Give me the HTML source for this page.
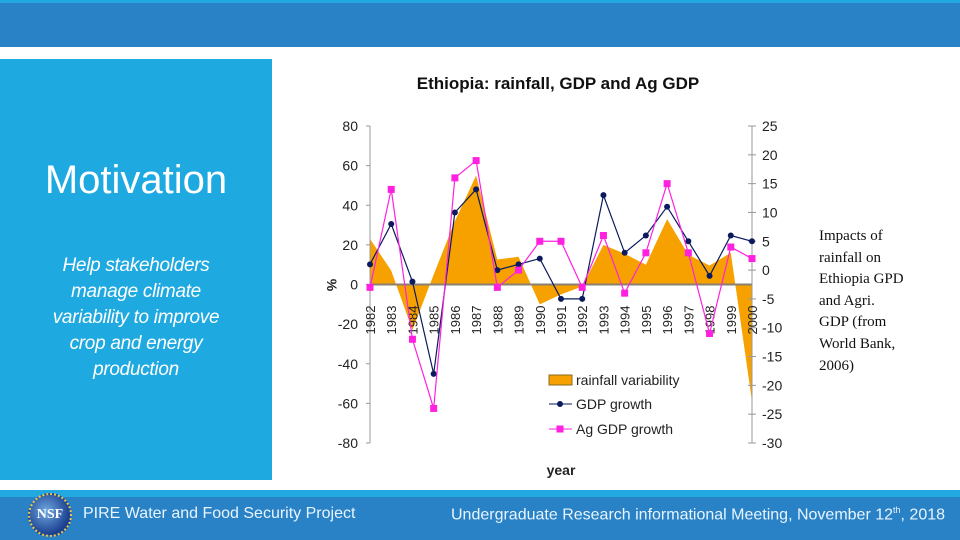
<!DOCTYPE html>
<html><head><meta charset="utf-8"><style>
body{margin:0;width:960px;height:540px;overflow:hidden;background:#fff;font-family:"Liberation Sans",sans-serif;position:relative}
div{position:absolute}
</style></head><body>
<div style="left:0;top:0;width:960px;height:3px;background:#22a9e1"></div>
<div style="left:0;top:3px;width:960px;height:44px;background:#2982c5"></div>
<div style="left:0;top:59px;width:272px;height:421px;background:#1fa9e1"></div>
<div style="left:0;top:158px;width:272px;text-align:center;color:#fff;font-size:40px">Motivation</div>
<div style="left:0;top:253px;width:272px;text-align:center;color:#fff;font-size:19px;font-style:italic;line-height:26px;letter-spacing:-0.3px">Help stakeholders<br>manage climate<br>variability to improve<br>crop and energy<br>production</div>
<div style="left:819px;top:226px;width:110px;font-family:'Liberation Serif',serif;font-size:15px;line-height:21.6px;color:#111">Impacts of<br>rainfall on<br>Ethiopia GPD<br>and Agri.<br>GDP (from<br>World Bank,<br>2006)</div>
<div style="left:0;top:490px;width:960px;height:7px;background:#22a9e1"></div>
<div style="left:0;top:497px;width:960px;height:43px;background:#2982c5"></div>
<div style="left:28px;top:493px;width:44px;height:44px;border-radius:50%;background:radial-gradient(circle at 40% 40%,#6fa8e0,#1a3f8f 70%);border:2px dotted #e8c84a;box-sizing:border-box;color:#fff;font-family:'Liberation Serif',serif;font-size:14px;font-weight:bold;text-align:center;line-height:40px">NSF</div>
<div style="left:83px;top:505px;color:#e8f4ff;font-size:16px">PIRE Water and Food Security Project</div>
<div style="left:451px;top:505px;color:#e8f4ff;font-size:16px">Undergraduate Research informational Meeting, November 12<sup style="font-size:9px">th</sup>, 2018</div>
<svg id="chart" width="960" height="540" style="position:absolute;left:0;top:0"></svg>
<script>
const years=["1982","1983","1984","1985","1986","1987","1988","1989","1990","1991","1992","1993","1994","1995","1996","1997","1998","1999","2000"];
const rainfall=[23,7,-23,5,32,55,12.6,14,-10,-5,-1,20,15.5,10,33,15,9.6,16,-59];
const gdp=[1,8,-2,-18,10,14,0,1,2,-5,-5,13,3,6,11,5,-1,6,5];
const agGdp=[-3,14,-12,-24,16,19,-3,0,5,5,-3,6,-4,3,15,3,-11,4,2];
const leftTicks=[80,60,40,20,0,-20,-40,-60,-80];
const rightTicks=[25,20,15,10,5,0,-5,-10,-15,-20,-25,-30];
const svg=document.getElementById('chart');const NS='http://www.w3.org/2000/svg';
const X0=370,X1=752,T=126,B=443;
const xs=i=>X0+(X1-X0)*i/(years.length-1);
const yL=v=>T+(80-v)/160*(B-T);
const yR=v=>T+(25-v)/55*(B-T);
function mk(t,a,txt){const e=document.createElementNS(NS,t);for(const k in a)e.setAttribute(k,a[k]);if(txt!=null)e.textContent=txt;svg.appendChild(e);return e;}
let e;
e=mk('text',{x:558,y:89,'text-anchor':'middle','font-size':17,'font-weight':'bold',fill:'#111'},'Ethiopia: rainfall, GDP and Ag GDP');


let d='M'+xs(0)+','+yL(0);rainfall.forEach((v,i)=>d+=' L'+xs(i)+','+yL(v));d+=' L'+xs(years.length-1)+','+yL(0)+'Z';
e=mk('path',{d:d,fill:'#f7a100',stroke:'none'});


e=mk('line',{x1:X0,x2:X1,y1:yL(0),y2:yL(0),stroke:'#8a8070','stroke-width':2});


e=mk('line',{x1:X0,x2:X0,y1:T,y2:B,stroke:'#999'});


e=mk('line',{x1:X1,x2:X1,y1:T,y2:B,stroke:'#999'});


leftTicks.forEach(v=>{mk('line',{x1:X0-4,x2:X0,y1:yL(v),y2:yL(v),stroke:'#999'});
e=mk('text',{x:X0-12,y:yL(v)+5,'text-anchor':'end','font-size':14,fill:'#222'},v);

});
rightTicks.forEach(v=>{mk('line',{x1:X1-4,x2:X1+4,y1:yR(v),y2:yR(v),stroke:'#999'});
e=mk('text',{x:X1+10,y:yR(v)+5,'font-size':14,fill:'#222'},v);

});
years.forEach((y,i)=>{e=mk('text',{x:0,y:0,'font-size':13,fill:'#222',transform:`translate(${xs(i)+5},${yL(0)+50}) rotate(-90)`},y);

});
e=mk('text',{x:0,y:0,'font-size':14,'font-weight':'bold',fill:'#222',transform:'translate(327,285) rotate(90)','text-anchor':'middle'},'%');


e=mk('text',{x:561,y:475,'text-anchor':'middle','font-size':14,'font-weight':'bold',fill:'#222'},'year');


function series(vals,col,name,sq){
 e=mk('polyline',{points:vals.map((v,i)=>xs(i)+','+yR(v)).join(' '),fill:'none',stroke:col,'stroke-width':1.2});
 
 
 vals.forEach((v,i)=>{if(sq)e=mk('rect',{x:xs(i)-3.5,y:yR(v)-3.5,width:7,height:7,fill:col});else e=mk('circle',{cx:xs(i),cy:yR(v),r:3,fill:col});
 
 });
}
series(gdp,'#0a1a5c','gdp',false);
series(agGdp,'#ff20e0','ag-gdp',true);
e=mk('rect',{x:549,y:375,width:23,height:10,fill:'#f7a100',stroke:'#8a6a20'});


e=mk('text',{x:576,y:385,'font-size':14,fill:'#222'},'rainfall variability');


mk('line',{x1:549,x2:572,y1:404,y2:404,stroke:'#0a1a5c'});mk('circle',{cx:560,cy:404,r:3,fill:'#0a1a5c'});
e=mk('text',{x:576,y:409,'font-size':14,fill:'#222'},'GDP growth');


mk('line',{x1:549,x2:572,y1:429,y2:429,stroke:'#ff20e0'});mk('rect',{x:556.5,y:425.5,width:7,height:7,fill:'#ff20e0'});
e=mk('text',{x:576,y:434,'font-size':14,fill:'#222'},'Ag GDP growth');


</script>
</body></html>
